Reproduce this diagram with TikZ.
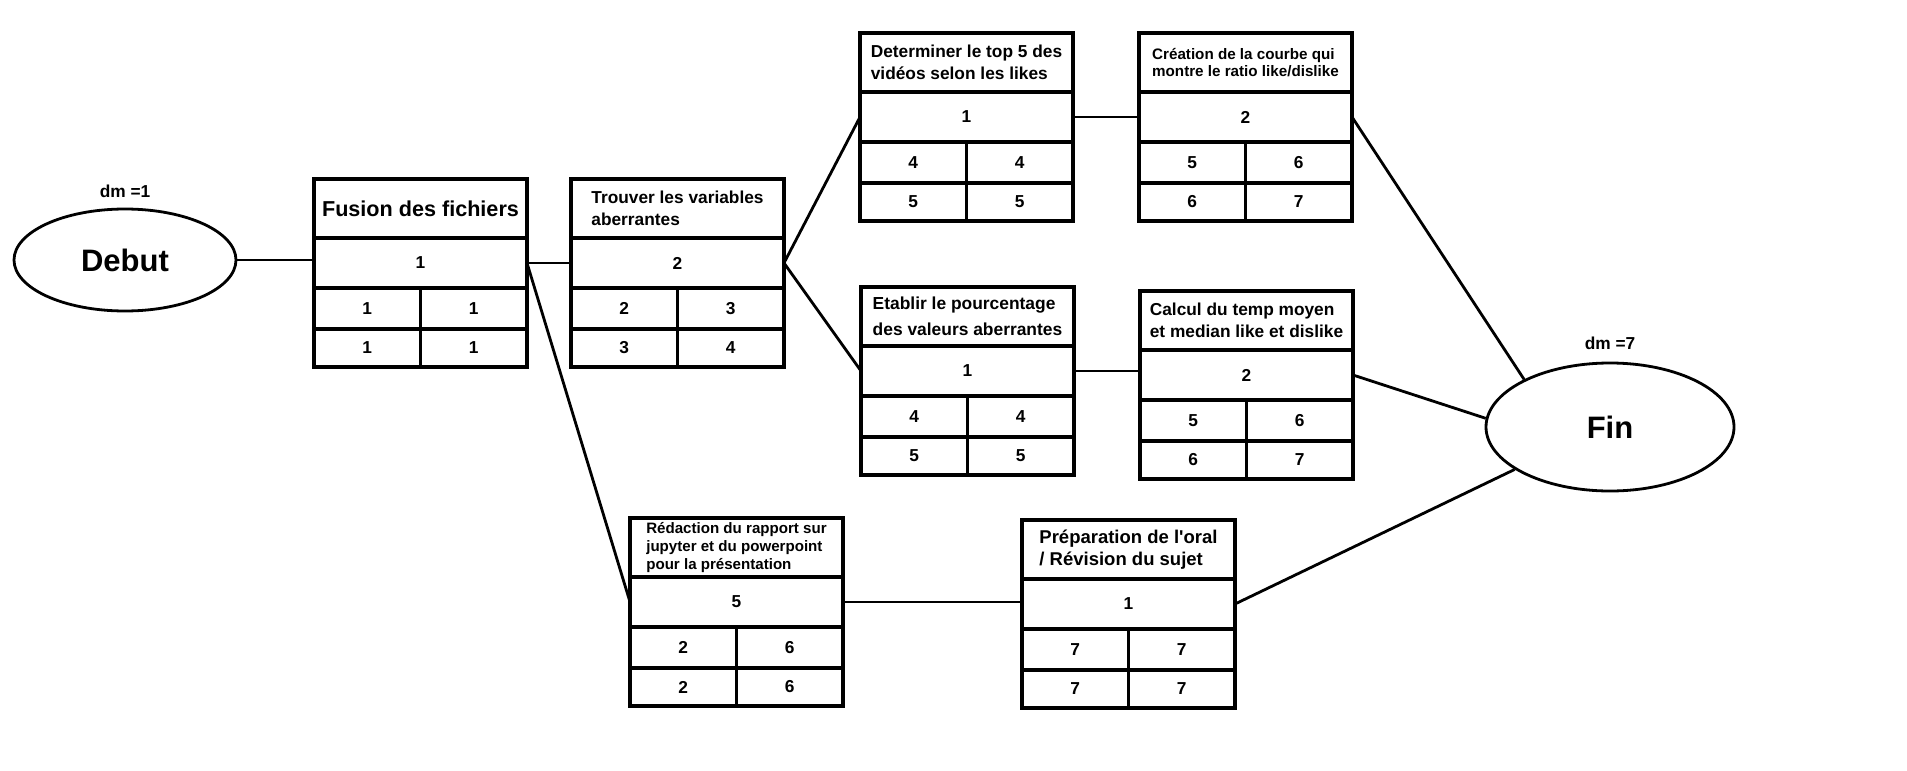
\documentclass[tikz,border=0pt]{standalone}
\usepackage{fontspec}
\setmainfont{Liberation Sans}
\usetikzlibrary{positioning, shapes.geometric}

\newcommand{\police}{\fontsize{17.3}{22}\selectfont\bfseries}

% une tache : nom, coin haut gauche, style du titre, titre, duree, puis les 4 cases
\newcommand{\tache}[9]{%
	\node[titre, #3] (#1-t) at (#2) {#4};
	\node[duree, below=0pt of #1-t] (#1) {#5};
	\node[cellule, below right=0pt and 0pt of #1.south west] (#1-a) {#6};
	\node[cellule, right=0pt of #1-a] (#1-b) {#7};
	\node[cellulebas, below=0pt of #1-a] (#1-c) {#8};
	\node[cellulebas, right=0pt of #1-c] (#1-d) {#9};
}

\begin{document}
\begin{tikzpicture}[
			x=1pt, y=-1pt,
			every node/.style={font=\police},
			titre/.style={draw, line width=3.5pt, outer sep=0pt, inner sep=2pt, minimum width=213pt, minimum height=59pt, align=left, anchor=north west},
			duree/.style={draw, line width=3.5pt, outer sep=0pt, inner sep=2pt, minimum width=213pt, minimum height=50pt},
			cellule/.style={draw, line width=3.5pt, outer sep=0pt, inner sep=2pt, minimum width=106.5pt, minimum height=41pt},
			cellulebas/.style={cellule, minimum height=38pt},
			etape/.style={ellipse, draw, line width=2.8pt, inner sep=0pt, font=\fontsize{31}{36}\selectfont\bfseries},
			every edge/.style={draw, line width=2.8pt},
			]
			
			\fill[white] (0,0) rectangle (1907,771);
			\useasboundingbox (0,0) rectangle (1907,771);
			
			% Debut et Fin
			\node[etape, minimum width=222pt, minimum height=102pt] (debut) at (125,260) {Debut};
			\node[above=6pt of debut] (dm-debut) {dm =1};
			\node[etape, minimum width=248pt, minimum height=128pt] (fin) at (1610,427) {Fin};
			\node[above=8pt of fin] (dm-fin) {dm =7};
			
			% Taches
			\tache{fusion}{314,179}{font=\fontsize{21.6}{26}\selectfont\bfseries}{Fusion des fichiers}{1}{1}{1}{1}{1}
			\tache{trouver}{571,179}{}{Trouver les variables\\aberrantes}{2}{2}{3}{3}{4}
			\tache{top5}{860,33}{}{Determiner le top 5 des\\vidéos selon les likes}{1}{4}{4}{5}{5}
			\tache{courbe}{1139,33}{font=\fontsize{15.2}{17.7}\selectfont\bfseries}{Création de la courbe qui\\montre le ratio like/dislike}{2}{5}{6}{6}{7}
			\tache{pourcent}{861,287}{font=\fontsize{17.4}{26}\selectfont\bfseries}{Etablir le pourcentage\\des valeurs aberrantes}{1}{4}{4}{5}{5}
			\tache{calcul}{1140,291}{}{Calcul du temp moyen\\et median like et dislike}{2}{5}{6}{6}{7}
			\tache{rapport}{630,518}{font=\fontsize{15.1}{17.7}\selectfont\bfseries}{Rédaction du rapport sur\\jupyter et du powerpoint\\pour la présentation}{5}{2}{6}{2}{6}
			\tache{oral}{1022,520}{font=\fontsize{18.5}{22}\selectfont\bfseries}{Préparation de l\textquotesingle oral\\/ Révision du sujet}{1}{7}{7}{7}{7}
			
			% Liaisons
			\path
			(debut) edge (fusion-t.west |- debut.east)
			(fusion.east) edge (trouver.west)
			(fusion.east) edge (rapport.west)
			(trouver.east) edge (top5.west)
			(trouver.east) edge (pourcent.west)
			(top5.east) edge (courbe.west)
			(pourcent.east) edge (calcul.west |- pourcent.east)
			(rapport.east) edge (oral.west |- rapport.east)
			(courbe.east) edge (fin.151)
			(calcul.east) edge (fin.176)
			(oral.east) edge (fin.204)
			;
			
		\end{tikzpicture}
\end{document}
